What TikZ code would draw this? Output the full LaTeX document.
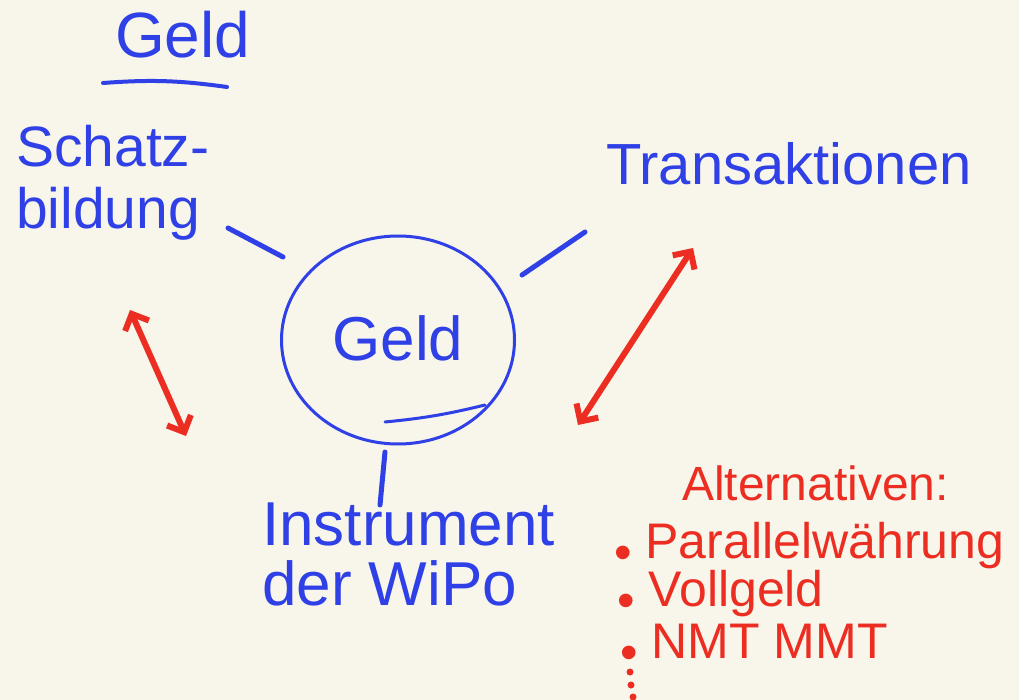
\documentclass[tikz,border=0pt]{standalone}
\usepackage{fontspec}
\setmainfont{Liberation Sans}
\usetikzlibrary{arrows.meta,shapes.geometric}
\definecolor{paper}{RGB}{248,245,234}
\definecolor{inkblue}{RGB}{46,64,230}
\definecolor{inkred}{RGB}{236,46,34}
\newcommand{\dotpt}{\raisebox{-.22em}{\textbullet}\ }
\tikzset{
    bluetext/.style={text=inkblue},
    redtext/.style={text=inkred, font=\fontsize{50}{52}\selectfont},
    link/.style={draw=inkblue, line width=5pt, line cap=round},
    redlink/.style={draw=inkred, line width=6pt, line cap=round,
        {Straight Barb[length=13pt, width=26pt]}-{Straight Barb[length=13pt, width=26pt]}}
}
\begin{document}
\begin{tikzpicture}[x=1pt, y=-1pt, every node/.style={inner sep=0pt}]
\fill[paper] (0,0) rectangle (1019,700);
\useasboundingbox (0,0) rectangle (1019,700);
% blue part
\node[bluetext, anchor=base west, font=\fontsize{64}{64}\selectfont] (title) at (115,58) {Geld};
\node[bluetext, anchor=north west, align=left, font=\fontsize{57}{62}\selectfont] (schatz) at (16,125) {Schatz-\\bildung};
\node[bluetext, anchor=base west, font=\fontsize{58}{58}\selectfont] (trans) at (606,185) {Transaktionen};
\node[bluetext, anchor=north west, align=left, font=\fontsize{62}{60}\selectfont] (instr) at (262,503) {Instrument\\der WiPo};
\node[bluetext, ellipse, draw=inkblue, line width=3pt, minimum width=233pt, minimum height=208pt,
    text depth=.3em, font=\fontsize{62}{62}\selectfont] (geld) at (398,340) {Geld};
\coordinate (u1) at (103,83);
\coordinate (u2) at (227,87);
\coordinate (s1) at (228,228);
\coordinate (s2) at (283,257);
\coordinate (t1) at (585,232);
\coordinate (t2) at (522,275);
\coordinate (i1) at (385,452);
\coordinate (i2) at (380,505);
\coordinate (g1) at (385,422);
\coordinate (g2) at (485,405);
    \foreach \from/\to in {s1/s2, t1/t2, i1/i2}
        \draw[link] (\from) -- (\to);
\draw[link, line width=4pt] (u1) to[bend left=6] (u2);
\draw[link, line width=3pt] (g1) to[bend right=4] (g2);
% red part
\coordinate (a1) at (130,310);
\coordinate (a2) at (186,436);
\coordinate (b1) at (693,248);
\coordinate (b2) at (578,425);
    \foreach \from/\to in {a1/a2, b1/b2}
        \draw[redlink] (\from) -- (\to);
\node[redtext, anchor=base west, font=\fontsize{48}{48}\selectfont] (alt) at (682,500) {Alternativen:};
\node[redtext, anchor=base west] (alt1) at (614,558) {\dotpt Parallelwährung};
\node[redtext, anchor=base west] (alt2) at (617,606) {\dotpt Vollgeld};
\node[redtext, anchor=base west] (alt3) at (620,658) {\dotpt NMT MMT};
\foreach \y/\x in {672/630, 685/631, 697/633}
    \fill[inkred] (\x,\y) circle (3.5pt);
\end{tikzpicture}
\end{document}
